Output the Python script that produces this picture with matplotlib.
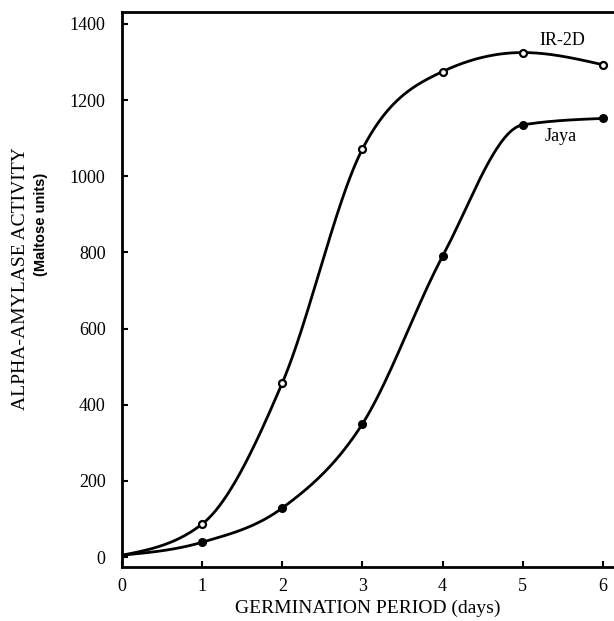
import numpy as np
import matplotlib
matplotlib.use("Agg")
import matplotlib.pyplot as plt

# data
days = [0, 1, 2, 3, 4, 5, 6]
ir2d = [5, 87, 458, 1072, 1275, 1325, 1293]
jaya = [5, 39, 129, 350, 790, 1135, 1152]

x_ticks = [0, 1, 2, 3, 4, 5, 6]
y_ticks = [0, 200, 400, 600, 800, 1000, 1200, 1400]


def smooth_curve(x, y, xs):
    """Hermite curve through the points, slopes kept from overshooting."""
    x = np.asarray(x, float)
    y = np.asarray(y, float)
    h = np.diff(x)
    d = np.diff(y) / h
    m = np.zeros_like(y)
    for k in range(1, len(y) - 1):
        if d[k - 1] * d[k] > 0:
            s = (d[k - 1] + d[k]) / 2
            lim = 2 * min(abs(d[k - 1]), abs(d[k]))
            m[k] = np.sign(s) * min(abs(s), lim)
    m[0] = (3 * d[0] - m[1]) / 2
    m[-1] = (3 * d[-1] - m[-2]) / 2
    idx = np.clip(np.searchsorted(x, xs) - 1, 0, len(h) - 1)
    t = (xs - x[idx]) / h[idx]
    h00 = 2 * t**3 - 3 * t**2 + 1
    h10 = t**3 - 2 * t**2 + t
    h01 = -2 * t**3 + 3 * t**2
    h11 = t**3 - t**2
    return (h00 * y[idx] + h10 * h[idx] * m[idx]
            + h01 * y[idx + 1] + h11 * h[idx] * m[idx + 1])


plt.rcParams['font.family'] = ['Liberation Serif', 'DejaVu Serif']

fig = plt.figure(figsize=(6.14, 6.21), dpi=100)
ax = fig.add_axes([0.199, 0.087, 0.801, 0.894])

xs = np.linspace(0, 6, 400)
ax.plot(xs, smooth_curve(days, ir2d, xs), color='black', lw=2)
ax.plot(xs, smooth_curve(days, jaya, xs), color='black', lw=2)
ax.plot(days[1:], ir2d[1:], 'o', ms=5, mfc='white', mec='black', mew=1.6)
ax.plot(days[1:], jaya[1:], 'o', ms=5.5, mfc='black', mec='black')

ax.text(5.21, 1356, 'IR-2D', fontsize=13, ha='left', va='center')
ax.text(5.27, 1104, 'Jaya', fontsize=13, ha='left', va='center')

ax.set_xlim(0, 6.14)
ax.set_ylim(-26, 1432)
ax.set_xticks(x_ticks)
ax.set_yticks(y_ticks)
ax.tick_params(direction='in', length=4, width=1.5, labelsize=13)
ax.tick_params(axis='y', pad=12)
ax.tick_params(axis='x', pad=8)
ax.spines['right'].set_visible(False)
for s in ['left', 'bottom', 'top']:
    ax.spines[s].set_linewidth(2)

ax.set_xlabel('GERMINATION PERIOD (days)', fontsize=14, labelpad=3)
fig.text(0.034, 0.552, 'ALPHA-AMYLASE ACTIVITY', rotation=90, fontsize=14,
         ha='center', va='center')
fig.text(0.066, 0.638, '(Maltose units)', rotation=90, fontsize=10.5,
         fontweight='bold', family=['Liberation Sans', 'DejaVu Sans'],
         ha='center', va='center')

fig.savefig('out.png', dpi=100)
